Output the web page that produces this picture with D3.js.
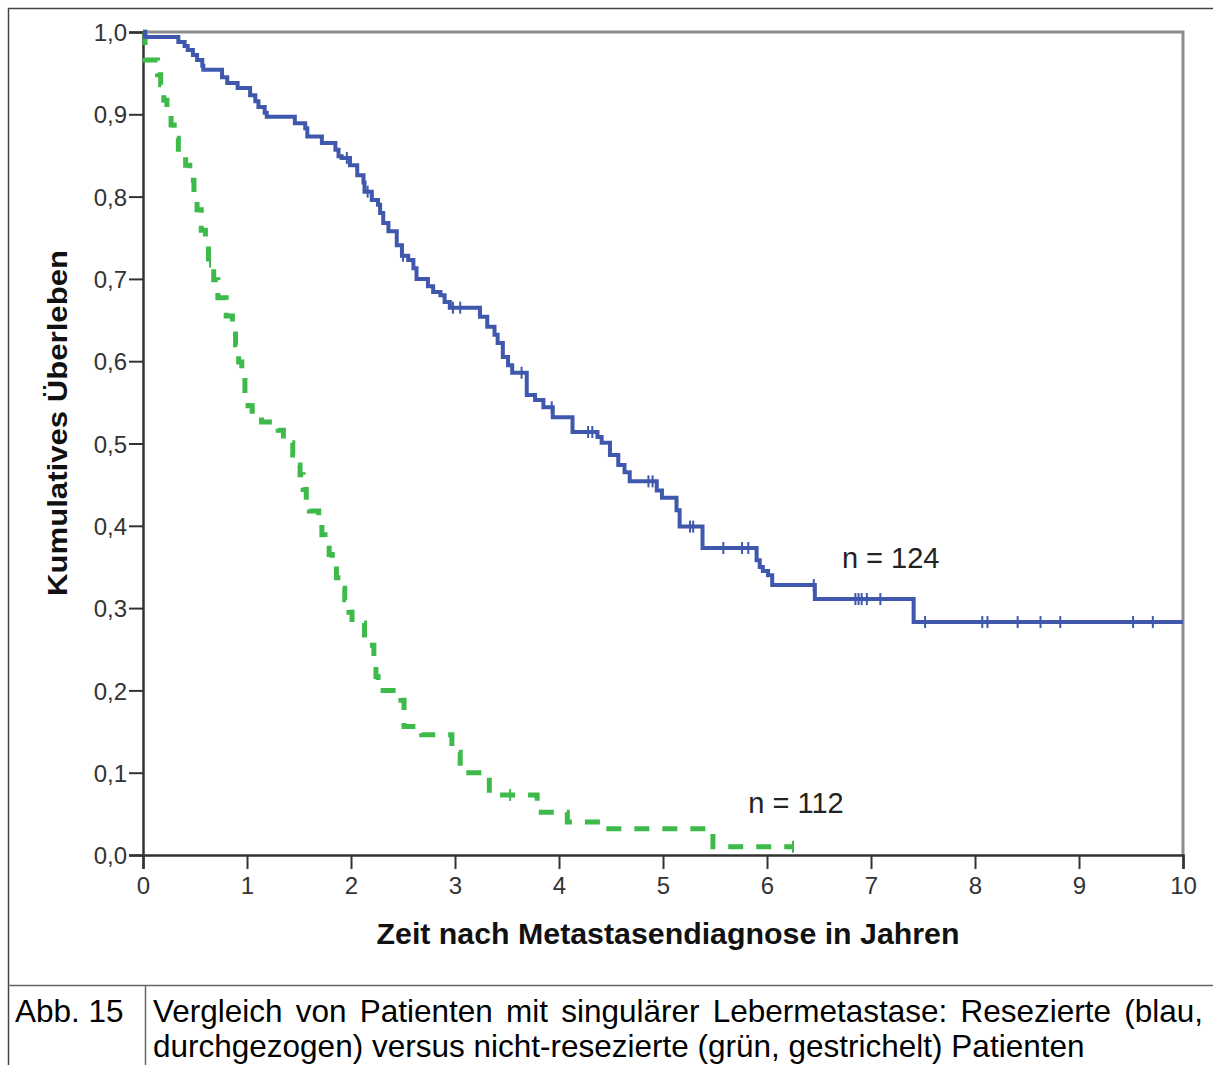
<!DOCTYPE html>
<html>
<head>
<meta charset="utf-8">
<script src="https://cdn.jsdelivr.net/npm/d3@7"></script>
<style>
  body { margin: 0; background: #fff; }
  svg { display: block; font-family: "Liberation Sans", Arial, sans-serif; }
</style>
</head>
<body>
<div id="chart"></div>
<script>
// Kaplan-Meier steps (years, cumulative survival)
var blueTimes = [0.02,0.34,0.40,0.43,0.48,0.52,0.57,0.58,0.76,0.81,0.91,1.03,1.08,1.11,1.17,1.19,
    1.46,1.56,1.58,1.72,1.85,1.88,1.91,1.99,2.06,2.12,2.13,2.20,2.26,2.28,2.31,2.36,
    2.44,2.49,2.55,2.60,2.63,2.74,2.79,2.86,2.90,2.95,3.24,3.31,3.38,3.41,3.46,3.51,
    3.55,3.69,3.77,3.85,3.94,4.13,4.37,4.41,4.49,4.57,4.63,4.68,4.94,4.99,5.13,5.16,
    5.38,5.90,5.93,5.96,6.01,6.05,6.46,7.41];
var blueSurv = [0.994,0.988,0.983,0.978,0.972,0.966,0.959,0.954,0.945,0.938,0.932,0.923,0.916,0.909,0.902,0.897,
    0.889,0.883,0.873,0.865,0.857,0.849,0.847,0.838,0.826,0.817,0.806,0.796,0.790,0.780,0.768,0.758,
    0.741,0.728,0.723,0.713,0.700,0.691,0.684,0.680,0.672,0.665,0.654,0.642,0.632,0.622,0.605,0.595,
    0.586,0.559,0.553,0.544,0.532,0.514,0.508,0.501,0.486,0.474,0.465,0.454,0.443,0.434,0.419,0.399,
    0.373,0.358,0.350,0.345,0.340,0.328,0.311,0.283];
var blueCensor = [1.96,2.16,2.50,2.98,3.05,3.64,3.93,4.28,4.32,4.86,4.90,5.26,5.29,5.58,5.76,5.82,
    6.45,6.85,6.88,6.91,6.96,7.09,7.52,8.07,8.12,8.41,8.63,8.82,9.52,9.71];
var blueEnd = 10;

var greenTimes = [0.02,0.14,0.17,0.20,0.23,0.27,0.30,0.34,0.41,0.45,0.49,0.52,0.56,0.60,0.63,0.68,
    0.72,0.80,0.86,0.89,0.92,0.95,0.98,1.01,1.05,1.14,1.30,1.35,1.44,1.47,1.51,1.54,
    1.57,1.60,1.69,1.72,1.75,1.79,1.82,1.86,1.90,1.94,1.98,2.01,2.13,2.22,2.24,2.26,
    2.48,2.51,2.68,2.97,3.05,3.33,3.79,4.08,4.42,5.48];
var greenSurv = [0.966,0.948,0.936,0.917,0.902,0.887,0.871,0.853,0.838,0.820,0.802,0.784,0.759,0.741,0.721,0.699,
    0.677,0.655,0.638,0.620,0.599,0.580,0.559,0.546,0.535,0.526,0.516,0.501,0.486,0.474,0.462,0.444,
    0.431,0.418,0.405,0.389,0.377,0.365,0.351,0.337,0.324,0.310,0.295,0.282,0.255,0.235,0.217,0.200,
    0.188,0.156,0.146,0.125,0.100,0.073,0.052,0.040,0.032,0.010];
var greenCensor = [0.645,3.53,6.25];
var greenEnd = 6.25;

var xTicks = [0,1,2,3,4,5,6,7,8,9,10];
var yTicks = [0,0.1,0.2,0.3,0.4,0.5,0.6,0.7,0.8,0.9,1.0];

var xTitle = "Zeit nach Metastasendiagnose in Jahren";
var yTitle = "Kumulatives Überleben";
var captionLabel = "Abb. 15";
var captionLines = ["Vergleich von Patienten mit singulärer Lebermetastase: Resezierte (blau,",
    "durchgezogen) versus nicht-resezierte (grün, gestrichelt) Patienten"];
var groupLabels = [{text: "n = 124", t: 6.72, s: 0.349}, {text: "n = 112", t: 5.82, s: 0.051}];

var width = 1213, height = 1065;
var blue = "#3f58ad", green = "#3dba4a";

var svg = d3.select("#chart").append("svg")
    .attr("width", width)
    .attr("height", height);

svg.append("rect").attr("width", width).attr("height", height).attr("fill", "#fff");

var x = d3.scaleLinear().domain([0, 10]).range([143, 1183]);
var y = d3.scaleLinear().domain([0, 1]).range([855, 32]);

//outer figure box and caption row
var box = svg.append("g").attr("stroke", "#444").attr("fill", "none");
box.append("path").attr("d", "M8.5,1065V8.5H1213").attr("stroke-width", 1.5);
box.append("line").attr("x1", 8).attr("x2", width).attr("y1", 985.5).attr("y2", 985.5)
    .attr("stroke", "#666").attr("stroke-width", 1.5);
box.append("line").attr("x1", 145.5).attr("x2", 145.5).attr("y1", 985).attr("y2", height)
    .attr("stroke", "#666").attr("stroke-width", 1.5);

//grey top and right frame
svg.append("path")
    .attr("d", "M" + x(0) + "," + y(1) + "H" + x(10) + "V" + y(0))
    .attr("fill", "none")
    .attr("stroke", "#8c8c8c")
    .attr("stroke-width", 3);

var fmt = function(d){ return d3.format(".1f")(d).replace(".", ","); };

var yAxis = svg.append("g")
    .attr("transform", "translate(" + x(0) + ",0)")
    .call(d3.axisLeft(y).tickValues(yTicks).tickSize(14).tickPadding(2).tickFormat(fmt));

var xAxis = svg.append("g")
    .attr("transform", "translate(0," + y(0) + ")")
    .call(d3.axisBottom(x).tickValues(xTicks).tickSize(14).tickPadding(8).tickFormat(d3.format("d")));

[yAxis, xAxis].forEach(function(a){
    a.select(".domain").attr("stroke", "#333").attr("stroke-width", 2.5);
    a.selectAll(".tick line").attr("stroke", "#333").attr("stroke-width", 2);
    a.selectAll(".tick text").attr("fill", "#333").style("font-size", "24px")
        .style("font-family", "'Liberation Sans', Arial, sans-serif");
});
yAxis.selectAll(".tick text").attr("dy", "0.36em");

//axis titles
svg.append("text")
    .attr("x", 668).attr("y", 944)
    .attr("text-anchor", "middle")
    .attr("textLength", 583).attr("lengthAdjust", "spacingAndGlyphs")
    .style("font-size", "29px").style("font-weight", "bold").attr("fill", "#111")
    .text(xTitle);

svg.append("text")
    .attr("transform", "translate(67,423) rotate(-90)")
    .attr("text-anchor", "middle")
    .attr("textLength", 346).attr("lengthAdjust", "spacingAndGlyphs")
    .style("font-size", "28px").style("font-weight", "bold").attr("fill", "#111")
    .text(yTitle);

//survival curves
function buildSteps(times, surv, end){
    var pts = [{t: 0, s: 1}];
    times.forEach(function(t, i){ pts.push({t: t, s: surv[i]}); });
    pts.push({t: end, s: surv[surv.length - 1]});
    return pts;
}

function survAt(times, surv, t){
    var i = d3.bisectRight(times, t);
    return i === 0 ? 1 : surv[i - 1];
}

var line = d3.line()
    .x(function(d){ return x(d.t); })
    .y(function(d){ return y(d.s); })
    .curve(d3.curveStepAfter);

svg.append("path")
    .datum(buildSteps(greenTimes, greenSurv, greenEnd))
    .attr("fill", "none")
    .attr("stroke", green)
    .attr("stroke-width", 5)
    .attr("stroke-dasharray", "15,13")
    .attr("d", line);

svg.append("path")
    .datum(buildSteps(blueTimes, blueSurv, blueEnd))
    .attr("fill", "none")
    .attr("stroke", blue)
    .attr("stroke-width", 4)
    .attr("d", line);

function drawCensor(times, surv, censor, color){
    svg.append("g").selectAll("line")
        .data(censor)
        .enter().append("line")
        .attr("x1", function(d){ return x(d); })
        .attr("x2", function(d){ return x(d); })
        .attr("y1", function(d){ return y(survAt(times, surv, d)) - 6; })
        .attr("y2", function(d){ return y(survAt(times, surv, d)) + 6; })
        .attr("stroke", color)
        .attr("stroke-width", 2);
}
drawCensor(blueTimes, blueSurv, blueCensor, blue);
drawCensor(greenTimes, greenSurv, greenCensor, green);

//group labels
svg.selectAll(".nlabel")
    .data(groupLabels)
    .enter().append("text")
    .attr("class", "nlabel")
    .attr("x", function(d){ return x(d.t); })
    .attr("y", function(d){ return y(d.s); })
    .style("font-size", "29px").attr("fill", "#222")
    .text(function(d){ return d.text; });

//caption
svg.append("text")
    .attr("x", 15).attr("y", 1022)
    .style("font-size", "31.5px").attr("fill", "#000")
    .text(captionLabel);

var cap1 = svg.append("text")
    .attr("x", 153).attr("y", 1022)
    .style("font-size", "31.5px").attr("fill", "#000")
    .text(captionLines[0]);
// justify the first line to the cell edge
var natural = cap1.node().getComputedTextLength();
var spaces = captionLines[0].split(" ").length - 1;
cap1.attr("word-spacing", ((1203 - 153 - natural) / spaces) + "px");

svg.append("text")
    .attr("x", 153).attr("y", 1057)
    .style("font-size", "31.5px").attr("fill", "#000")
    .text(captionLines[1]);
</script>
</body>
</html>
